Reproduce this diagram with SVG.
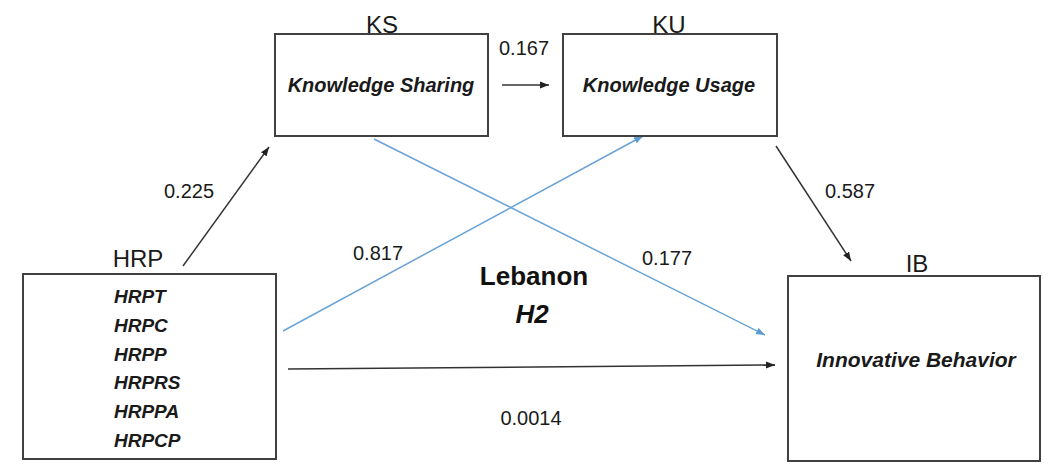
<svg xmlns="http://www.w3.org/2000/svg" width="1055" height="475" viewBox="0 0 1055 475">
  <defs>
    <style>
      .box { fill: #ffffff; stroke: #404040; stroke-width: 2; }
      .title { font-family: "Liberation Sans", Arial, sans-serif; font-size: 24px; fill: #1a1a1a; text-anchor: middle; }
      .name { font-family: "Liberation Sans", Arial, sans-serif; font-size: 20px; font-weight: bold; font-style: italic; fill: #1a1a1a; text-anchor: middle; }
      .item { font-family: "Liberation Sans", Arial, sans-serif; font-size: 19px; font-weight: bold; font-style: italic; fill: #1a1a1a; }
      .coef { font-family: "Liberation Sans", Arial, sans-serif; font-size: 20px; fill: #1a1a1a; text-anchor: middle; }
      .big { font-family: "Liberation Sans", Arial, sans-serif; font-size: 26px; font-weight: bold; fill: #111111; text-anchor: middle; }
      .dark { stroke: #333333; stroke-width: 1.5; fill: none; marker-end: url(#arrDark); }
      .blue { stroke: #6aa3d8; stroke-width: 1.5; fill: none; marker-end: url(#arrBlue); }
    </style>
    <marker id="arrDark" markerUnits="userSpaceOnUse" markerWidth="10" markerHeight="8" refX="9" refY="4" orient="auto">
      <path d="M0,0.5 L9,4 L0,7.5 z" fill="#222222"/>
    </marker>
    <marker id="arrBlue" markerUnits="userSpaceOnUse" markerWidth="10" markerHeight="8" refX="9" refY="4" orient="auto">
      <path d="M0,0.5 L9,4 L0,7.5 z" fill="#5b9bd5"/>
    </marker>
  </defs>
  <rect width="1055" height="475" fill="#ffffff"/>

  <g id="connectors">
    <line class="dark" x1="183" y1="266" x2="269" y2="147"/>
    <line class="dark" x1="502" y1="85" x2="549" y2="85"/>
    <line class="dark" x1="776" y1="146" x2="851" y2="261"/>
    <line class="blue" x1="283" y1="331" x2="643" y2="136"/>
    <line class="blue" x1="374" y1="139" x2="765" y2="335"/>
    <line class="dark" x1="288" y1="369" x2="775" y2="365"/>
    <text class="coef" x="189" y="198">0.225</text>
    <text class="coef" x="524" y="55">0.167</text>
    <text class="coef" x="850" y="198">0.587</text>
    <text class="coef" x="378" y="260">0.817</text>
    <text class="coef" x="667" y="265">0.177</text>
    <text class="coef" x="531" y="425">0.0014</text>
  </g>

  <g id="KS">
    <rect class="box" x="275" y="34" width="213" height="102"/>
    <text class="title" x="382" y="33">KS</text>
    <text class="name" x="381" y="92">Knowledge Sharing</text>
  </g>

  <g id="KU">
    <rect class="box" x="563" y="34" width="214" height="102"/>
    <text class="title" x="669" y="33">KU</text>
    <text class="name" x="669" y="92">Knowledge Usage</text>
  </g>

  <g id="HRP">
    <rect class="box" x="23" y="274" width="253" height="185"/>
    <text class="title" x="138" y="267">HRP</text>
    <text class="item" x="114" y="303">HRPT</text>
    <text class="item" x="114" y="332">HRPC</text>
    <text class="item" x="114" y="361">HRPP</text>
    <text class="item" x="114" y="389">HRPRS</text>
    <text class="item" x="114" y="418">HRPPA</text>
    <text class="item" x="114" y="447">HRPCP</text>
  </g>

  <g id="IB">
    <rect class="box" x="788" y="276" width="252" height="185"/>
    <text class="title" x="917" y="272">IB</text>
    <text class="name" x="916" y="367" style="font-size:21px">Innovative Behavior</text>
  </g>

  <g id="caption">
    <text class="big" x="534" y="285">Lebanon</text>
    <text class="big" x="532" y="323" font-style="italic">H2</text>
  </g>
</svg>
